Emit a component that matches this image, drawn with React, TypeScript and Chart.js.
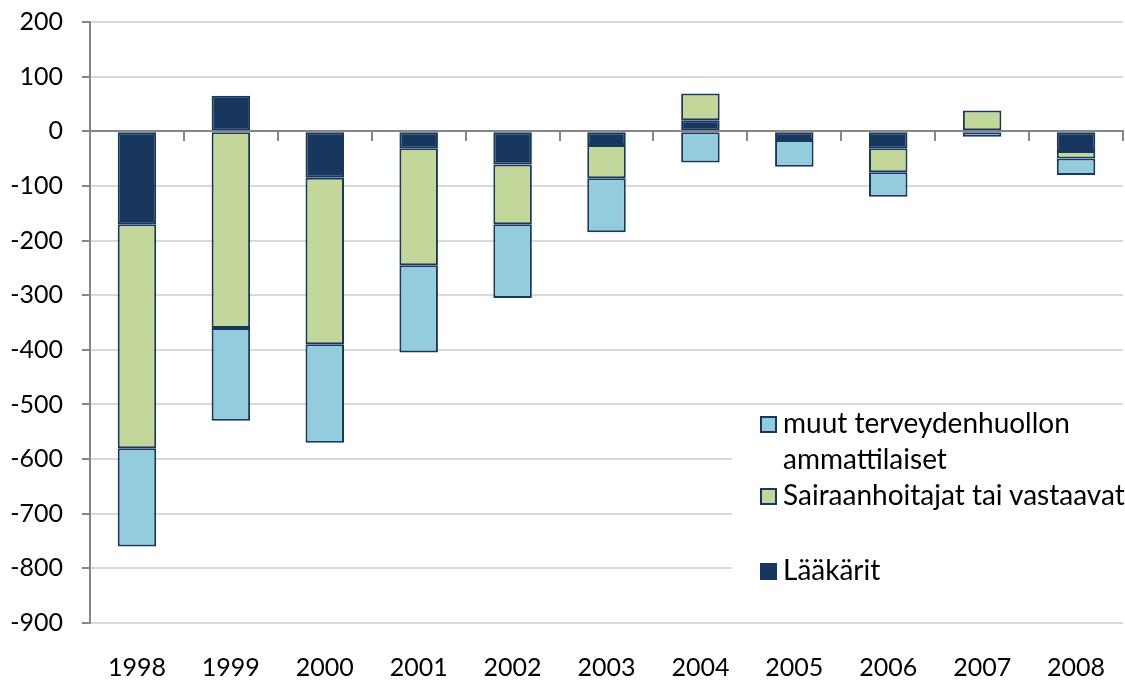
import React, { useEffect, useRef } from "react";
import { Chart, registerables } from "chart.js";

Chart.register(...registerables);

const years = ["1998", "1999", "2000", "2001", "2002", "2003", "2004", "2005", "2006", "2007", "2008"];
const laakarit = [-170, 65, -85, -31, -61, -25, 20, -16, -31, 0, -36];
const sairaanhoitajat = [-410, -360, -305, -214, -109, -61, 49, 0, -44, 38, -14];
const muut = [-180, -170, -180, -160, -135, -99, -57, -49, -45, -10, -30];

const seriesNames = ["Lääkärit", "Sairaanhoitajat tai vastaavat", "muut terveydenhuollon ammattilaiset"];
const seriesColors = ["#17375E", "#C4D79B", "#93CDDD"];
const yTicks = [200, 100, 0, -100, -200, -300, -400, -500, -600, -700, -800, -900];

const FONT = "Lato, 'Open Sans', sans-serif";

export default function App() {
  const ref = useRef<HTMLCanvasElement | null>(null);

  useEffect(() => {
    if (!ref.current) return;
    const values = [laakarit, sairaanhoitajat, muut];
    const chart = new Chart(ref.current, {
      type: "bar",
      data: {
        labels: years,
        datasets: values.map((v, i) => ({
          label: seriesNames[i],
          data: v,
          backgroundColor: seriesColors[i],
          borderColor: "#17375E",
          borderWidth: 2,
          borderSkipped: false,
          inflateAmount: 0,
          barPercentage: 0.41,
          categoryPercentage: 1,
          xAxisID: "x",
          yAxisID: "y",
        })),
      },
      options: {
        animation: false,
        responsive: true,
        maintainAspectRatio: false,
        layout: { padding: { left: 0, right: 2, top: 22, bottom: 0 } },
        plugins: { legend: { display: false }, tooltip: { enabled: false } },
        scales: {
          x: {
            type: "category",
            stacked: true,
            position: { y: 0 } as any,
            grid: { drawOnChartArea: false, offset: true, tickLength: 9, color: "#868686", lineWidth: 2 },
            border: { color: "#868686", width: 2 },
            ticks: { display: false },
            afterFit: (s: any) => {
              s.height = 10;
              s.paddingLeft = 0;
              s.paddingRight = 0;
            },
          },
          x2: {
            type: "category",
            labels: years,
            position: "bottom",
            grid: { display: false, drawTicks: false },
            border: { display: false },
            ticks: { color: "#000", font: { family: FONT, size: 25 }, padding: 30 },
            afterFit: (s: any) => {
              s.height = 58;
              s.paddingLeft = 0;
              s.paddingRight = 0;
            },
          },
          y: {
            stacked: true,
            min: -900,
            max: 200,
            afterBuildTicks: (scale: any) => {
              scale.ticks = yTicks.map((v) => ({ value: v }));
            },
            afterFit: (s: any) => {
              s.width = 90;
              s.paddingTop = 0;
              s.paddingBottom = 0;
            },
            ticks: {
              color: "#000",
              font: { family: FONT, size: 25 },
              padding: 19,
              callback: (v: any) => String(v),
            },
            grid: { color: "#D9D9D9", lineWidth: 2, tickLength: 8, tickColor: "#868686" },
            border: { color: "#868686", width: 2 },
          },
        },
      },
    });
    return () => chart.destroy();
  }, []);

  const items = [
    { idx: 2, top: 404, lines: ["muut terveydenhuollon", "ammattilaiset"] },
    { idx: 1, top: 476, lines: ["Sairaanhoitajat tai vastaavat"] },
    { idx: 0, top: 551, lines: ["Lääkärit"] },
  ];

  return (
    <div style={{ position: "absolute", left: 0, top: 0, width: 1125, height: 681, background: "#fff" }}>
      <canvas ref={ref} />
      <div
        style={{
          position: "absolute",
          left: 732,
          top: 406,
          width: 393,
          height: 192,
          background: "#fff",
        }}
      />
      {items.map((it) => (
        <div
          key={it.idx}
          style={{
            position: "absolute",
            left: 760,
            top: it.top,
            display: "flex",
            alignItems: "flex-start",
            fontFamily: FONT,
            fontSize: 28,
            lineHeight: "36px",
            color: "#000",
            whiteSpace: "nowrap",
          }}
        >
          <div
            style={{
              width: 13,
              height: 13,
              marginTop: 12,
              background: seriesColors[it.idx],
              border: "2px solid #17375E",
              flex: "0 0 auto",
            }}
          />
          <div style={{ marginLeft: 6 }}>
            {it.lines.map((l, j) => (
              <div key={j}>{l}</div>
            ))}
          </div>
        </div>
      ))}
    </div>
  );
}
